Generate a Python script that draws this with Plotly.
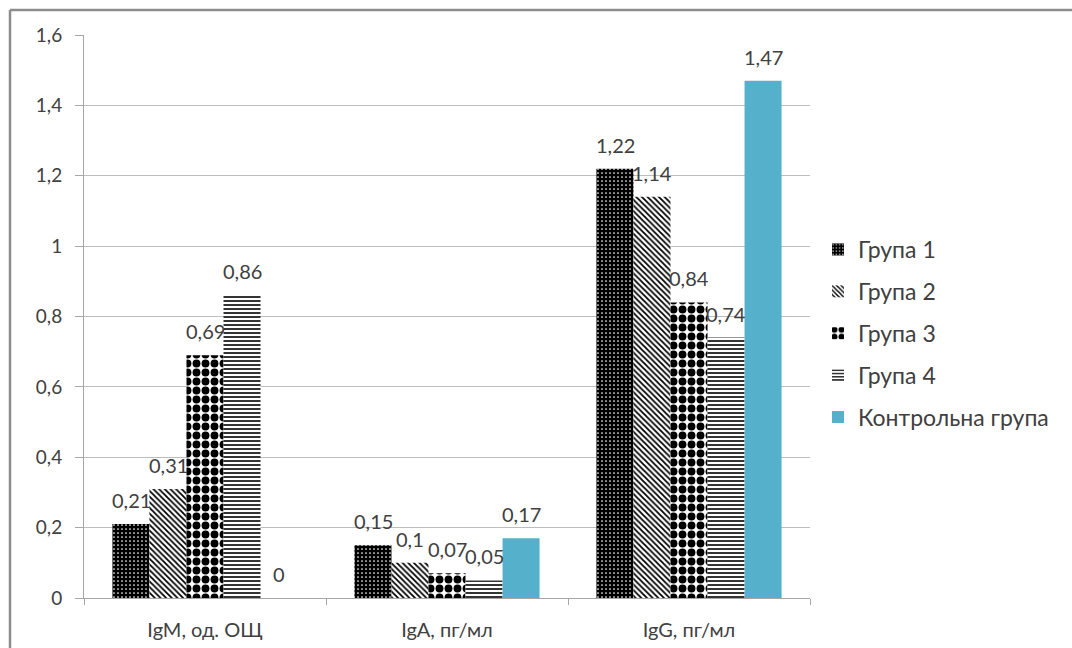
import plotly.graph_objects as go

categories = ["IgM, од. ОЩ", "IgA, пг/мл", "IgG, пг/мл"]
group_names = ["Група 1", "Група 2", "Група 3", "Група 4", "Контрольна група"]
group1 = [0.21, 0.15, 1.22]
group2 = [0.31, 0.10, 1.14]
group3 = [0.69, 0.07, 0.84]
group4 = [0.86, 0.05, 0.74]
control = [0, 0.17, 1.47]
y_ticks = [0, 0.2, 0.4, 0.6, 0.8, 1.0, 1.2, 1.4, 1.6]

series = [group1, group2, group3, group4, control]

W, H = 1072, 648
L, R, T, B = 84, 810, 35, 598  # plot area in pixels

patterns = [
    dict(shape=".", bgcolor="#000000", fgcolor="#ffffff", size=4, solidity=0.15),
    dict(shape="\\", bgcolor="#ffffff", fgcolor="#000000", size=4, solidity=0.45),
    dict(shape=".", bgcolor="#ffffff", fgcolor="#000000", size=9, solidity=0.6),
    dict(shape="-", bgcolor="#ffffff", fgcolor="#000000", size=4, solidity=0.4),
    None,
]

TEXT = "#404040"
FONT = "Lato"


def fmt(v):
    return f"{v:g}".replace(".", ",")


fig = go.Figure()
for name, vals, pat in zip(group_names, series, patterns):
    marker = dict(line=dict(width=0))
    if pat is None:
        marker["color"] = "#55B1CB"
    else:
        marker["color"] = pat["bgcolor"]
        marker["pattern"] = dict(fillmode="overlay", fgopacity=1, **pat)
    fig.add_trace(go.Bar(
        name=name, x=categories, y=vals, marker=marker,
        legendgroup=name,
    ))

# value labels above each bar
n = len(series)
for i, vals in enumerate(series):
    for j, v in enumerate(vals):
        fig.add_annotation(
            x=j, y=v, xref="x", yref="y",
            text=fmt(v), showarrow=False,
            xshift=(i - (n - 1) / 2) * 37,
            yshift=24, yanchor="middle",
            font=dict(family=FONT, size=20, color=TEXT),
        )

fig.update_layout(
    width=W, height=H,
    margin=dict(l=L, r=W - R, t=T, b=H - B),
    paper_bgcolor="white", plot_bgcolor="white",
    barmode="group", bargap=0.235, bargroupgap=0,
    separators=", ",
    font=dict(family=FONT, size=20, color=TEXT),
    legend=dict(
        x=(818 - L) / (R - L), y=(B - 228) / (B - T), xanchor="left", yanchor="top",
        font=dict(family=FONT, size=23, color=TEXT),
        tracegroupgap=9, itemwidth=30,
        bgcolor="rgba(0,0,0,0)",
    ),
    showlegend=True,
)
fig.update_yaxes(
    range=[0, 1.6], tickvals=y_ticks, automargin=False,
    showgrid=True, gridcolor="#BDBDBD", gridwidth=1,
    showline=True, linecolor="#A6A6A6", linewidth=1,
    ticks="outside", ticklen=8, tickcolor="#A6A6A6",
    ticklabelstandoff=9,
    zeroline=False, tickfont=dict(family=FONT, size=19, color=TEXT),
)
fig.update_xaxes(
    automargin=False,
    showline=True, linecolor="#A6A6A6", linewidth=1,
    ticks="outside", tickson="boundaries", ticklen=6, tickcolor="#A6A6A6",
    ticklabelstandoff=14,
    tickfont=dict(family=FONT, size=20, color=TEXT),
)

# outer frame around the chart
x0 = (10 - L) / (R - L)
y0 = (B - 10) / (B - T)
fig.add_shape(type="line", xref="paper", yref="paper",
              x0=x0, y0=y0, x1=(W + 5 - L) / (R - L), y1=y0,
              line=dict(color="#8C8C8C", width=2.5))
fig.add_shape(type="line", xref="paper", yref="paper",
              x0=x0, y0=y0, x1=x0, y1=(B - H - 5) / (B - T),
              line=dict(color="#8C8C8C", width=2.5))

fig.write_html("out.html")
